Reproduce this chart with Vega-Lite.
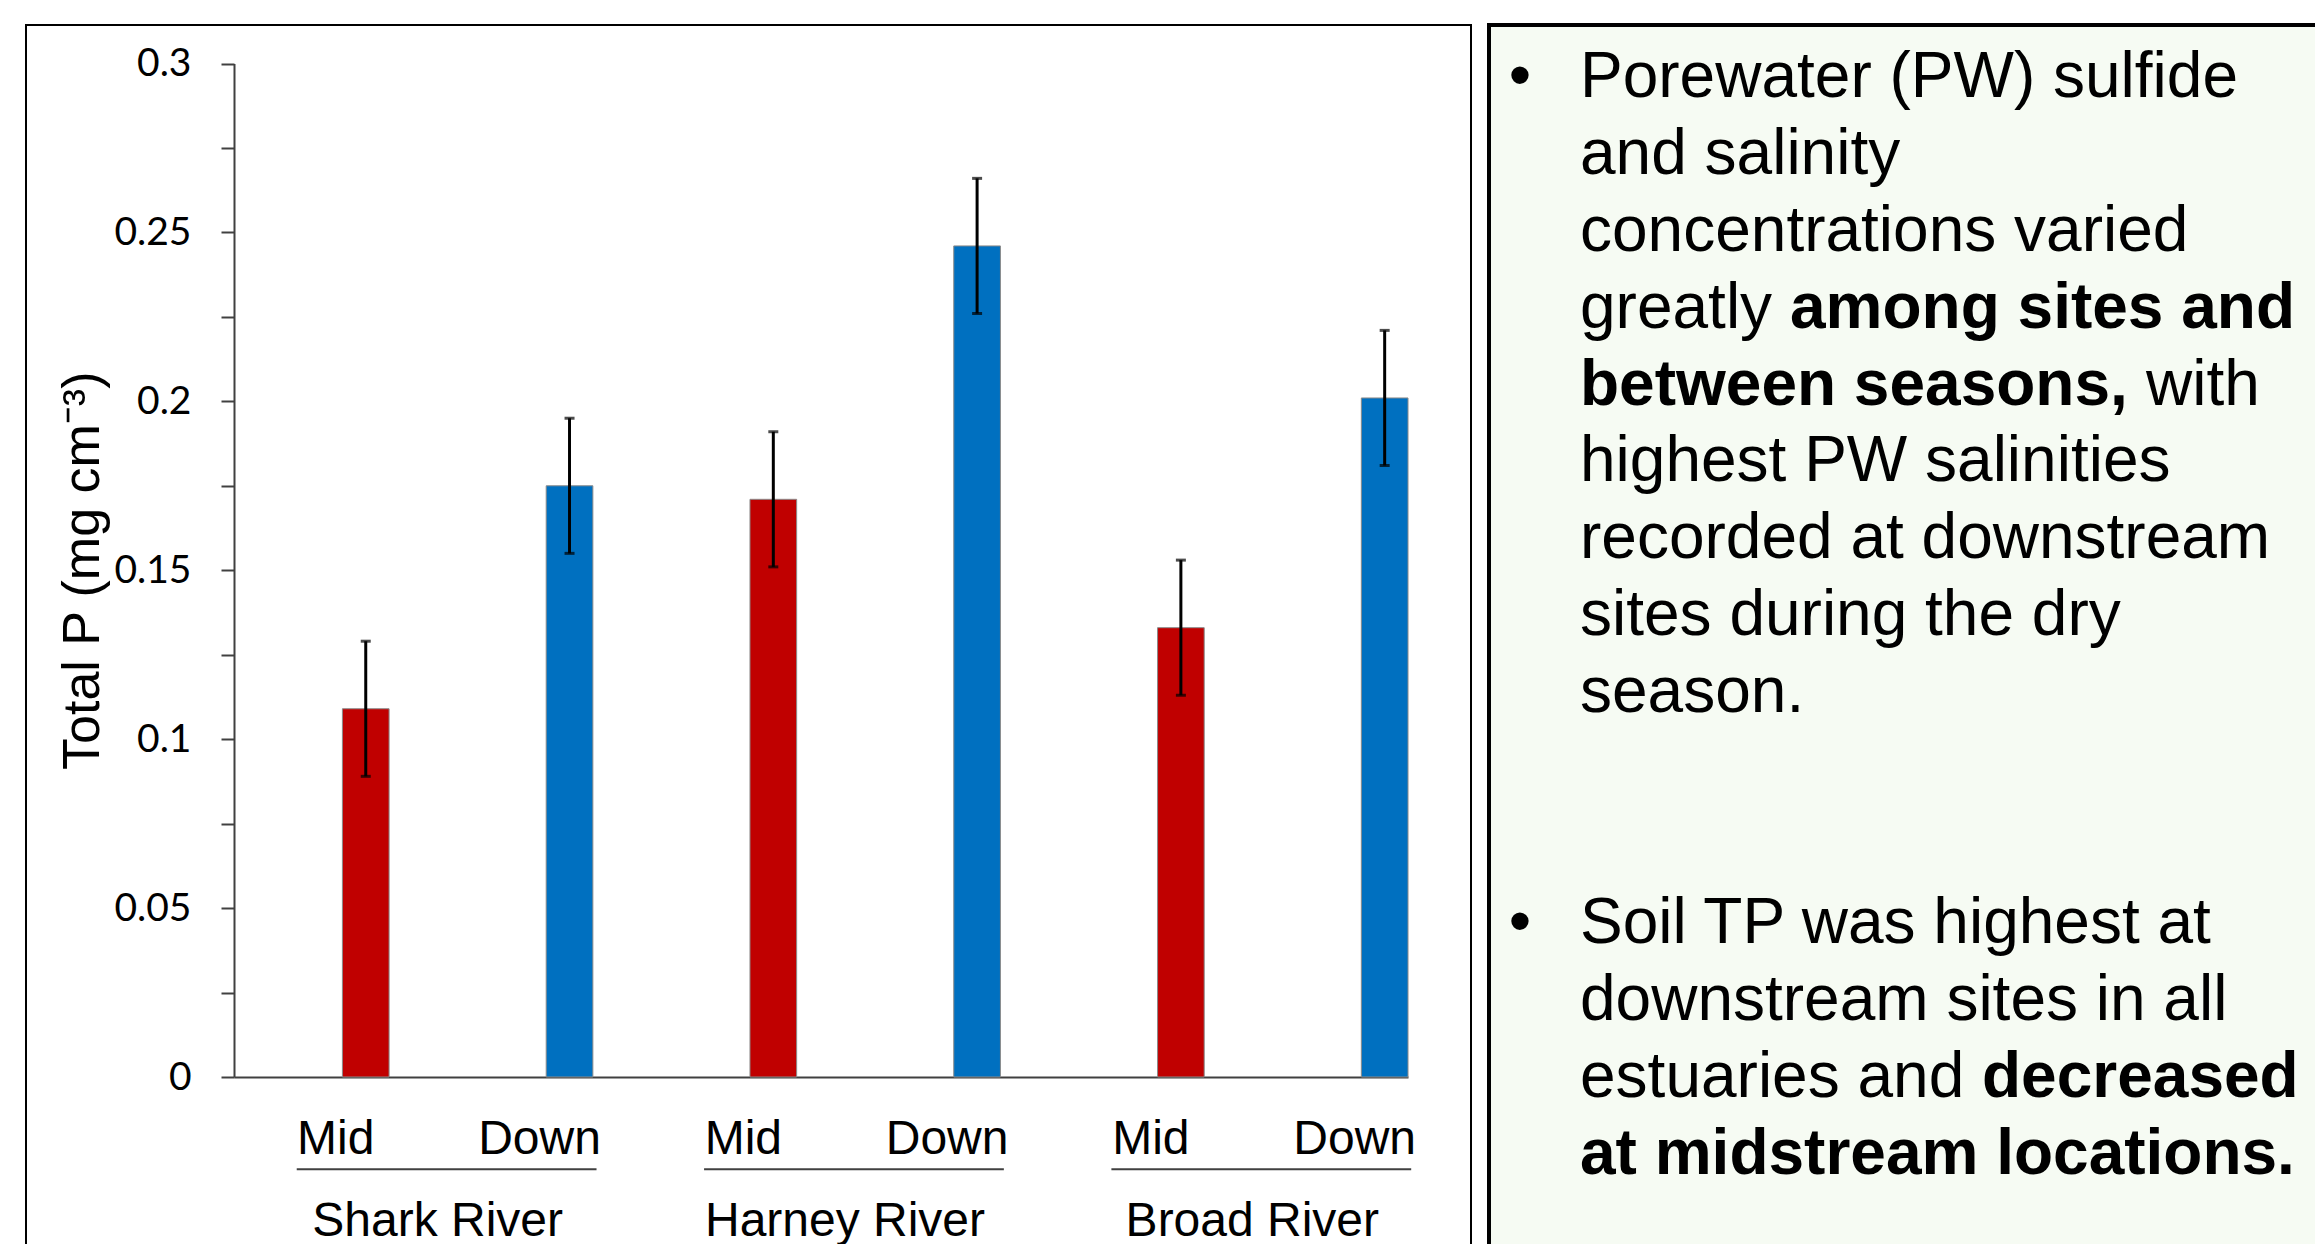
{
  "$schema": "https://vega.github.io/schema/vega-lite/v6.json",
  "background": "white",
  "padding": {"left": 25, "top": 23, "right": 0, "bottom": 0},
  "config": {
    "font": "Liberation Sans",
    "concat": {"spacing": 15},
    "axis": {"labelColor": "black", "titleColor": "black", "grid": false}
  },
  "datasets": {
    "soil": [
      {"river": "Shark River", "site": "Mid", "station": "Shark River Mid", "tp": 0.109, "se": 0.02},
      {"river": "Shark River", "site": "Down", "station": "Shark River Down", "tp": 0.175, "se": 0.02},
      {"river": "Harney River", "site": "Mid", "station": "Harney River Mid", "tp": 0.171, "se": 0.02},
      {"river": "Harney River", "site": "Down", "station": "Harney River Down", "tp": 0.246, "se": 0.02},
      {"river": "Broad River", "site": "Mid", "station": "Broad River Mid", "tp": 0.133, "se": 0.02},
      {"river": "Broad River", "site": "Down", "station": "Broad River Down", "tp": 0.201, "se": 0.02}
    ],
    "notes": [
      {"line": 1, "kind": "bullet", "part": "lead", "bold": false, "text": "•"},
      {"line": 1, "kind": "body", "part": "lead", "bold": false, "text": "Porewater (PW) sulfide"},
      {"line": 2, "kind": "body", "part": "lead", "bold": false, "text": "and salinity"},
      {"line": 3, "kind": "body", "part": "lead", "bold": false, "text": "concentrations varied"},
      {"line": 4, "kind": "body", "part": "lead", "bold": false, "text": "greatly"},
      {"line": 4, "kind": "body", "part": "tail", "bold": true, "text": "among sites and"},
      {"line": 5, "kind": "body", "part": "lead", "bold": true, "text": "between seasons,"},
      {"line": 5, "kind": "body", "part": "tail", "bold": false, "text": "with"},
      {"line": 6, "kind": "body", "part": "lead", "bold": false, "text": "highest PW salinities"},
      {"line": 7, "kind": "body", "part": "lead", "bold": false, "text": "recorded at downstream"},
      {"line": 8, "kind": "body", "part": "lead", "bold": false, "text": "sites during the dry"},
      {"line": 9, "kind": "body", "part": "lead", "bold": false, "text": "season."},
      {"line": 12, "kind": "bullet", "part": "lead", "bold": false, "text": "•"},
      {"line": 12, "kind": "body", "part": "lead", "bold": false, "text": "Soil TP was highest at"},
      {"line": 13, "kind": "body", "part": "lead", "bold": false, "text": "downstream sites in all"},
      {"line": 14, "kind": "body", "part": "lead", "bold": false, "text": "estuaries and"},
      {"line": 14, "kind": "body", "part": "tail", "bold": true, "text": "decreased"},
      {"line": 15, "kind": "body", "part": "lead", "bold": true, "text": "at midstream locations."}
    ]
  },
  "hconcat": [
    {
      "width": 1445,
      "height": 1240,
      "view": {"stroke": "black", "strokeWidth": 2, "fill": "white"},
      "data": {"name": "soil"},
      "layer": [
        {
          "encoding": {
            "x": {
              "field": "station",
              "type": "nominal",
              "sort": null,
              "scale": {"range": [208, 1382], "paddingInner": 0.771, "paddingOuter": 0.266, "align": 1},
              "axis": {
                "orient": "bottom",
                "offset": -188,
                "title": null,
                "labelExpr": "slice(datum.label, lastindexof(datum.label, ' ') + 1)",
                "labelAngle": 0,
                "labelFont": "Liberation Sans",
                "labelFontSize": 48,
                "labelPadding": 38,
                "labelOffset": -30,
                "labelLimit": 0,
                "ticks": false,
                "tickSize": 0,
                "domainColor": "#404040",
                "domainWidth": 2
              }
            },
            "y": {
              "field": "tp",
              "type": "quantitative",
              "scale": {"domain": [0, 0.3], "range": [1052, 38.5], "nice": false},
              "axis": {
                "orient": "left",
                "offset": -208,
                "values": [0, 0.025, 0.05, 0.075, 0.1, 0.125, 0.15, 0.175, 0.2, 0.225, 0.25, 0.275, 0.3],
                "labelExpr": "round(datum.value * 40) % 2 == 0 ? format(datum.value, '~g') : ''",
                "labelOverlap": false,
                "labelFlush": false,
                "labelFont": "Lato",
                "labelFontSize": 39,
                "labelPadding": 30,
                "tickSize": 13,
                "tickColor": "#404040",
                "tickWidth": 2,
                "domainColor": "#404040",
                "domainWidth": 2,
                "title": "Total P (mg cm⁻³)",
                "titleFont": "Liberation Sans",
                "titleFontSize": 52,
                "titleFontWeight": "normal",
                "titlePadding": 4
              }
            }
          },
          "layer": [
            {
              "mark": {"type": "bar", "stroke": "#8a8a8a", "strokeWidth": 1},
              "encoding": {
                "color": {
                  "field": "site",
                  "type": "nominal",
                  "scale": {"domain": ["Mid", "Down"], "range": ["#C00000", "#0070C0"]},
                  "legend": null
                }
              }
            },
            {
              "mark": {
                "type": "errorbar",
                "color": "black",
                "ticks": {"size": 10, "thickness": 3, "color": "black"},
                "rule": {"strokeWidth": 3, "color": "black"}
              },
              "encoding": {
                "yError": {"field": "se"}
              }
            }
          ]
        },
        {
          "transform": [{"aggregate": [{"op": "count", "as": "n"}], "groupby": ["river"]}],
          "mark": {"type": "rule", "color": "#404040", "strokeWidth": 2},
          "encoding": {
            "x": {
              "field": "river",
              "type": "nominal",
              "sort": null,
              "bandPosition": 0.154,
              "scale": {"range": [208, 1430], "paddingInner": 0, "paddingOuter": 0},
              "axis": {
                "orient": "bottom",
                "offset": -188,
                "title": null,
                "domain": false,
                "ticks": false,
                "tickSize": 0,
                "labelAngle": 0,
                "labelLimit": 0,
                "labelFont": "Liberation Sans",
                "labelFontSize": 48,
                "labelPadding": 120
              }
            },
            "x2": {"field": "river", "bandPosition": 0.89},
            "y": {"datum": -0.0273, "type": "quantitative"}
          }
        }
      ],
      "resolve": {"scale": {"x": "independent"}}
    },
    {
      "width": 840,
      "height": 1240,
      "view": {"stroke": "black", "strokeWidth": 4, "fill": "#f6fbf3"},
      "data": {"name": "notes"},
      "encoding": {
        "y": {"field": "line", "type": "quantitative", "scale": {"domain": [1, 15], "range": [72, 1148.5]}, "axis": null},
        "x": {"field": "kind", "type": "nominal", "scale": {"type": "point", "domain": ["bullet", "body"], "range": [31, 91], "padding": 0}, "axis": null},
        "text": {"field": "text"}
      },
      "layer": [
        {
          "transform": [{"filter": "datum.kind == 'bullet'"}],
          "mark": {"type": "text", "align": "center", "baseline": "alphabetic", "font": "Liberation Sans", "fontSize": 64, "color": "black"}
        },
        {
          "transform": [{"filter": "datum.kind == 'body' && datum.part == 'lead' && !datum.bold"}],
          "mark": {"type": "text", "align": "left", "baseline": "alphabetic", "font": "Liberation Sans", "fontSize": 64, "color": "black"}
        },
        {
          "transform": [{"filter": "datum.kind == 'body' && datum.part == 'lead' && datum.bold"}],
          "mark": {"type": "text", "align": "left", "baseline": "alphabetic", "font": "Liberation Sans", "fontSize": 64, "fontWeight": "bold", "color": "black"}
        },
        {
          "transform": [{"filter": "datum.part == 'tail' && datum.line == 4"}],
          "mark": {"type": "text", "align": "left", "baseline": "alphabetic", "font": "Liberation Sans", "fontSize": 64, "fontWeight": "bold", "color": "black", "dx": 210}
        },
        {
          "transform": [{"filter": "datum.part == 'tail' && datum.line == 14"}],
          "mark": {"type": "text", "align": "left", "baseline": "alphabetic", "font": "Liberation Sans", "fontSize": 64, "fontWeight": "bold", "color": "black", "dx": 402}
        },
        {
          "transform": [{"filter": "datum.part == 'tail' && datum.line == 5"}],
          "mark": {"type": "text", "align": "left", "baseline": "alphabetic", "font": "Liberation Sans", "fontSize": 64, "color": "black", "dx": 566}
        }
      ]
    }
  ]
}
